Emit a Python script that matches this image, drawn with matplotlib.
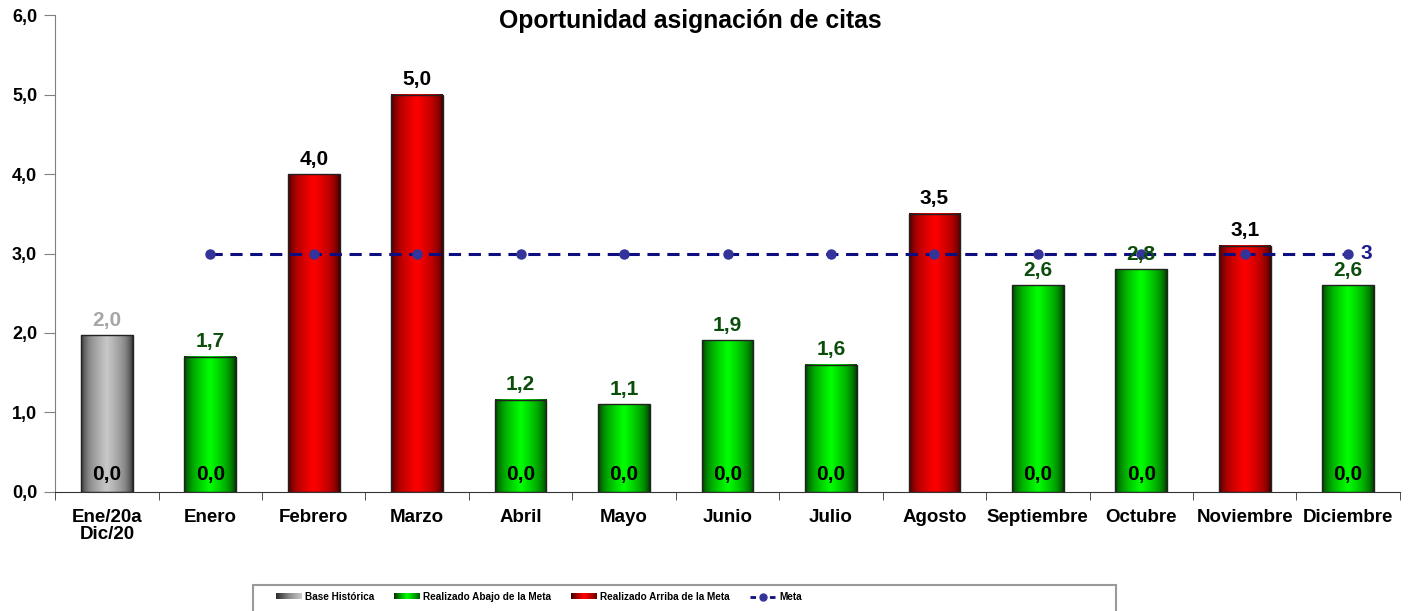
import matplotlib
matplotlib.use("Agg")
import matplotlib.pyplot as plt
import numpy as np
from matplotlib.colors import LinearSegmentedColormap
from matplotlib.legend_handler import HandlerBase
from matplotlib.image import BboxImage
from matplotlib.transforms import Bbox, TransformedBbox
from matplotlib.patches import Rectangle
from matplotlib.lines import Line2D

plt.rcParams['font.family'] = ['Liberation Sans', 'DejaVu Sans']

categories = ["Ene/20a\nDic/20", "Enero", "Febrero", "Marzo", "Abril", "Mayo", "Junio",
              "Julio", "Agosto", "Septiembre", "Octubre", "Noviembre", "Diciembre"]
base_hist = [1.97, None, None, None, None, None, None, None, None, None, None, None, None]
abajo = [None, 1.7, None, None, 1.16, 1.1, 1.91, 1.6, None, 2.6, 2.8, None, 2.6]
arriba = [None, None, 4.0, 5.0, None, None, None, None, 3.5, None, None, 3.1, None]
meta = [None, 3, 3, 3, 3, 3, 3, 3, 3, 3, 3, 3, 3]
zero_labels = [0.0, 0.0, None, None, 0.0, 0.0, 0.0, 0.0, None, 0.0, 0.0, None, 0.0]

cm_gray = LinearSegmentedColormap.from_list("g", ["#2e2e2e", "#8a8a8a", "#c8c8c8"])
cm_green = LinearSegmentedColormap.from_list("gr", ["#003300", "#00a000", "#00ff00"])
cm_red = LinearSegmentedColormap.from_list("r", ["#3a0000", "#b00000", "#ff0000"])

xg = np.linspace(0, 1, 64)
prof = 1 - np.abs(xg - 0.5) * 2
prof = np.clip(prof, 0, 1) ** 0.6
grad = prof[np.newaxis, :]

fig = plt.figure(figsize=(14.14, 6.11), dpi=100)
ax = fig.add_axes([0.039, 0.195, 0.951, 0.78])

x = np.arange(len(categories))
bw = 0.5


def draw_bars(vals, cmap):
    for i, v in enumerate(vals):
        if v is None:
            continue
        ax.imshow(grad, extent=[i - bw / 2, i + bw / 2, 0, v], aspect='auto',
                  cmap=cmap, vmin=0, vmax=1, zorder=2, interpolation='bicubic')
        ax.add_patch(Rectangle((i - bw / 2, 0), bw, v, fill=False,
                               edgecolor="#222222", linewidth=1.0, zorder=3))


draw_bars(base_hist, cm_gray)
draw_bars(abajo, cm_green)
draw_bars(arriba, cm_red)

mx = [i for i, v in enumerate(meta) if v is not None]
my = [v for v in meta if v is not None]
ax.plot(mx, my, linestyle=(0, (4, 2.5)), color="#0d0d80", linewidth=2.2,
        marker='o', markersize=6.5, markerfacecolor="#333399",
        markeredgecolor="#333399", zorder=5)
ax.text(mx[-1] + 0.12, my[-1], "3", color="#1a1a8c", fontsize=15,
        fontweight='bold', va='center', ha='left', zorder=6)


def fmt(v):
    return f"{v:.1f}".replace(".", ",")


LBL = 15
for i, v in enumerate(base_hist):
    if v is not None:
        ax.text(i, v + 0.07, fmt(v), ha='center', va='bottom', fontsize=LBL,
                fontweight='bold', color="#a6a6a6", zorder=6)
for i, v in enumerate(abajo):
    if v is not None:
        ax.text(i, v + 0.07, fmt(v), ha='center', va='bottom', fontsize=LBL,
                fontweight='bold', color="#0b4d0b", zorder=6)
for i, v in enumerate(arriba):
    if v is not None:
        ax.text(i, v + 0.07, fmt(v), ha='center', va='bottom', fontsize=LBL,
                fontweight='bold', color="black", zorder=6)
for i, v in enumerate(zero_labels):
    if v is not None:
        ax.text(i, 0.1, fmt(v), ha='center', va='bottom', fontsize=LBL,
                fontweight='bold', color="black", zorder=6)

ax.set_xlim(-0.5, len(categories) - 0.5)
ax.set_ylim(0, 6)
ax.set_yticks(np.arange(0, 7, 1))
ax.set_yticklabels([fmt(v) for v in np.arange(0, 7, 1)], fontsize=13, fontweight='bold')
ax.set_xticks(x)
ax.set_xticklabels(categories, fontsize=13.5, fontweight='bold', linespacing=1.0)
ax.set_xticks(np.arange(-0.5, len(categories), 1), minor=True)
ax.tick_params(axis='x', which='major', length=0, pad=12)
ax.tick_params(axis='x', which='minor', length=6, direction='out', color="#333333")
ax.tick_params(axis='y', length=8, direction='out', color="#808080", pad=5)
for s in ['top', 'right']:
    ax.spines[s].set_visible(False)
ax.spines['left'].set_color("#808080")
ax.spines['bottom'].set_color("#333333")
fig.text(0.488, 1 - 21 / 611, "Oportunidad asignación de citas", fontsize=17.8,
         fontweight='bold', ha='center', va='center')


class GradHandler(HandlerBase):
    def __init__(self, cmap, data):
        super().__init__()
        self.cmap = cmap
        self.data = data

    def create_artists(self, legend, orig_handle, xdescent, ydescent, width,
                       height, fontsize, trans):
        h = height * 0.8
        bb = Bbox.from_bounds(-xdescent, -ydescent + (height - h) / 2, width, h)
        tb = TransformedBbox(bb, trans)
        img = BboxImage(tb, cmap=self.cmap, norm=plt.Normalize(0, 1),
                        interpolation='bicubic')
        img.set_data(self.data[np.newaxis, :])
        return [img]


lin = np.linspace(0, 1, 32)
legend_gray = lin
legend_col = np.concatenate([np.linspace(0, 1, 16), np.linspace(1, 0.2, 16)])

# legend frame
fig.patches.append(Rectangle((253 / 1414, -0.05), (1116 - 253) / 1414, 0.05 + 26 / 611,
                             transform=fig.transFigure, fill=False,
                             edgecolor="#999999", linewidth=1.5, zorder=0))

hg = Rectangle((0, 0), 1, 1)
hgr = Rectangle((0, 0), 1, 1)
hr = Rectangle((0, 0), 1, 1)
hm = Line2D([], [], linestyle=(0, (2, 1.5)), color="#0d0d80", linewidth=2,
            marker='o', markersize=5, markerfacecolor="#333399", markeredgecolor="#333399")
leg = fig.legend([hg, hgr, hr, hm],
                 ["Base Histórica", "Realizado Abajo de la Meta",
                  "Realizado Arriba de la Meta", "Meta"],
                 handler_map={hg: GradHandler(cm_gray, legend_gray),
                              hgr: GradHandler(cm_green, legend_col),
                              hr: GradHandler(cm_red, legend_col)},
                 ncol=4, loc='center left', bbox_to_anchor=(276 / 1414, 1 - 597 / 611),
                 frameon=False, prop={'size': 7.2, 'weight': 'bold'},
                 handlelength=2.6, columnspacing=2.0, handletextpad=0.3,
                 borderpad=0.0, borderaxespad=0.0)

fig.savefig("out.png", dpi=100)
